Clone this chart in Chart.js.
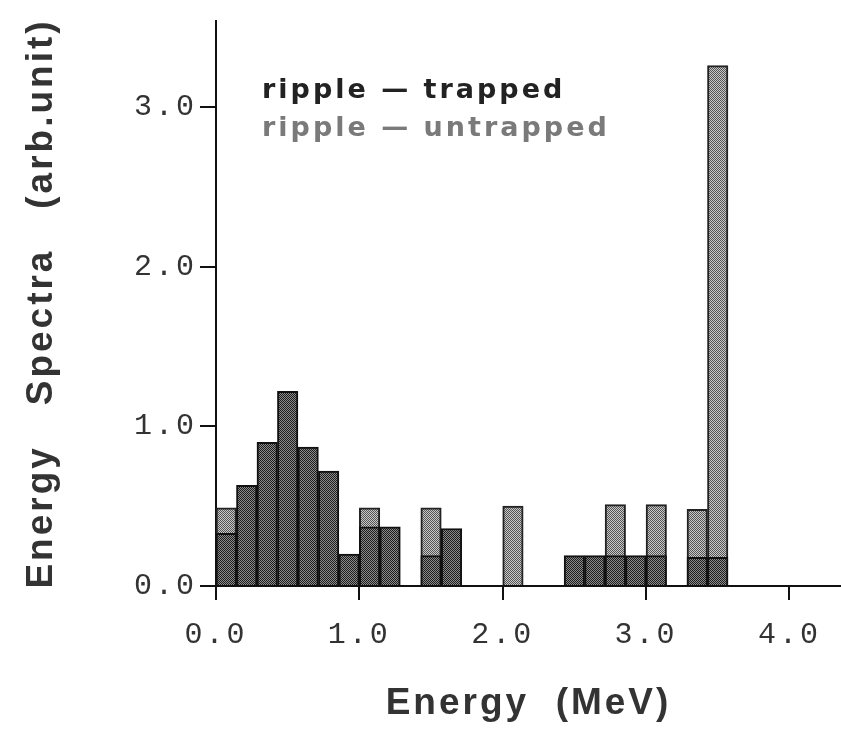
<!DOCTYPE html>
<html lang="en">
<head>
<meta charset="UTF-8">
<title>Energy Spectra</title>
<style>
  html, body { margin: 0; padding: 0; background: #fff; }
  #wrap { width: 841px; height: 746px; }
</style>
</head>
<body>
<div id="wrap"><canvas id="spectraChart" width="841" height="746"></canvas></div>

<script src="https://cdn.jsdelivr.net/npm/chart.js"></script>
<script>
// histogram bins are 1/7 MeV wide, starting at 0 MeV
const binWidth = 1 / 7;
const trapped = [0.33, 0.63, 0.90, 1.22, 0.87, 0.72, 0.20, 0.37, 0.37, 0, 0.19,
                 0.36, 0, 0, 0, 0, 0, 0.19, 0.19, 0.19, 0.19, 0.19, 0, 0.18, 0.18,
                 0, 0, 0, 0, 0, 0];
const untrapped = [0.49, 0.49, 0, 0, 0, 0, 0, 0.49, 0, 0, 0.49,
                   0, 0, 0, 0.50, 0, 0, 0, 0, 0.51, 0, 0.51, 0, 0.48, 3.26,
                   0, 0, 0, 0, 0, 0];
const seriesNames = ['ripple \u2014 trapped', 'ripple \u2014 untrapped'];
const xTicks = [0, 1, 2, 3, 4];
const yTicks = [0, 1, 2, 3];

// halftone-ish fill like the scanned figure
function stipple(dark, light) {
  const c = document.createElement('canvas');
  c.width = 2; c.height = 2;
  const g = c.getContext('2d');
  g.fillStyle = light; g.fillRect(0, 0, 2, 2);
  g.fillStyle = dark; g.fillRect(0, 0, 1, 1); g.fillRect(1, 1, 1, 1);
  return g.createPattern(c, 'repeat');
}

function toPoints(values) {
  return values.map((v, i) => ({ x: (i + 0.5) * binWidth, y: v }));
}

// the old plot lettering is widely spaced
const spacing = {
  id: 'spacing',
  beforeDraw(chart) { chart.ctx.letterSpacing = '3px'; }
};

// text-only legend drawn inside the plot
const legendText = {
  id: 'legendText',
  afterDraw(chart) {
    const { ctx, chartArea } = chart;
    const colors = ['#222', '#7a7a7a'];
    ctx.save();
    ctx.font = 'bold 27px "DejaVu Sans"';
    ctx.letterSpacing = '3px';
    ctx.textBaseline = 'middle';
    seriesNames.forEach((name, i) => {
      ctx.fillStyle = colors[i];
      ctx.fillText(name, chartArea.left + 46, 91 + i * 38);
    });
    ctx.restore();
  }
};

const tickFont = { family: 'Liberation Mono', size: 30 };
const titleFont = { family: 'Liberation Sans', size: 37, weight: 'bold' };

new Chart(document.getElementById('spectraChart'), {
  type: 'bar',
  data: {
    datasets: [{
      label: seriesNames[0],
      data: toPoints(trapped),
      backgroundColor: stipple('#1c1c1c', '#8c8c8c'),
      borderColor: '#111',
      borderWidth: 2,
      grouped: false,
      barPercentage: 1,
      categoryPercentage: 1
    }, {
      label: seriesNames[1],
      data: toPoints(untrapped),
      backgroundColor: stipple('#555', '#c8c8c8'),
      borderColor: '#222',
      borderWidth: 2,
      grouped: false,
      barPercentage: 1,
      categoryPercentage: 1
    }]
  },
  options: {
    responsive: false,
    animation: false,
    layout: { padding: { top: 10, right: 0, left: 0, bottom: 0 } },
    plugins: {
      legend: { display: false },
      tooltip: { enabled: false }
    },
    scales: {
      x: {
        type: 'linear',
        min: 0,
        max: 4.36,
        offset: false,
        afterBuildTicks: s => { s.ticks = xTicks.map(v => ({ value: v })); },
        afterFit: s => { s.height = 160; },
        grid: { offset: false, drawOnChartArea: false, drawTicks: true, tickLength: 14, color: '#111', lineWidth: 2 },
        border: { display: true, color: '#111', width: 2 },
        ticks: { callback: v => v.toFixed(1), font: tickFont, color: '#333', padding: 17, maxRotation: 0, autoSkip: false },
        title: { display: true, text: 'Energy  (MeV)', font: titleFont, color: '#333', padding: { top: 0, bottom: 20 } }
      },
      y: {
        min: 0,
        max: 3.54,
        afterBuildTicks: s => { s.ticks = yTicks.map(v => ({ value: v })); },
        afterFit: s => { s.width = 216; },
        grid: { drawOnChartArea: false, drawTicks: true, tickLength: 16, color: '#111', lineWidth: 2 },
        border: { display: true, color: '#111', width: 2 },
        ticks: { callback: v => v.toFixed(1), font: tickFont, color: '#333', padding: 3 },
        title: { display: true, text: 'Energy   Spectra   (arb.unit)', font: titleFont, color: '#333', padding: { top: 20, bottom: 0 } }
      }
    }
  },
  plugins: [spacing, legendText]
});
</script>
</body>
</html>
